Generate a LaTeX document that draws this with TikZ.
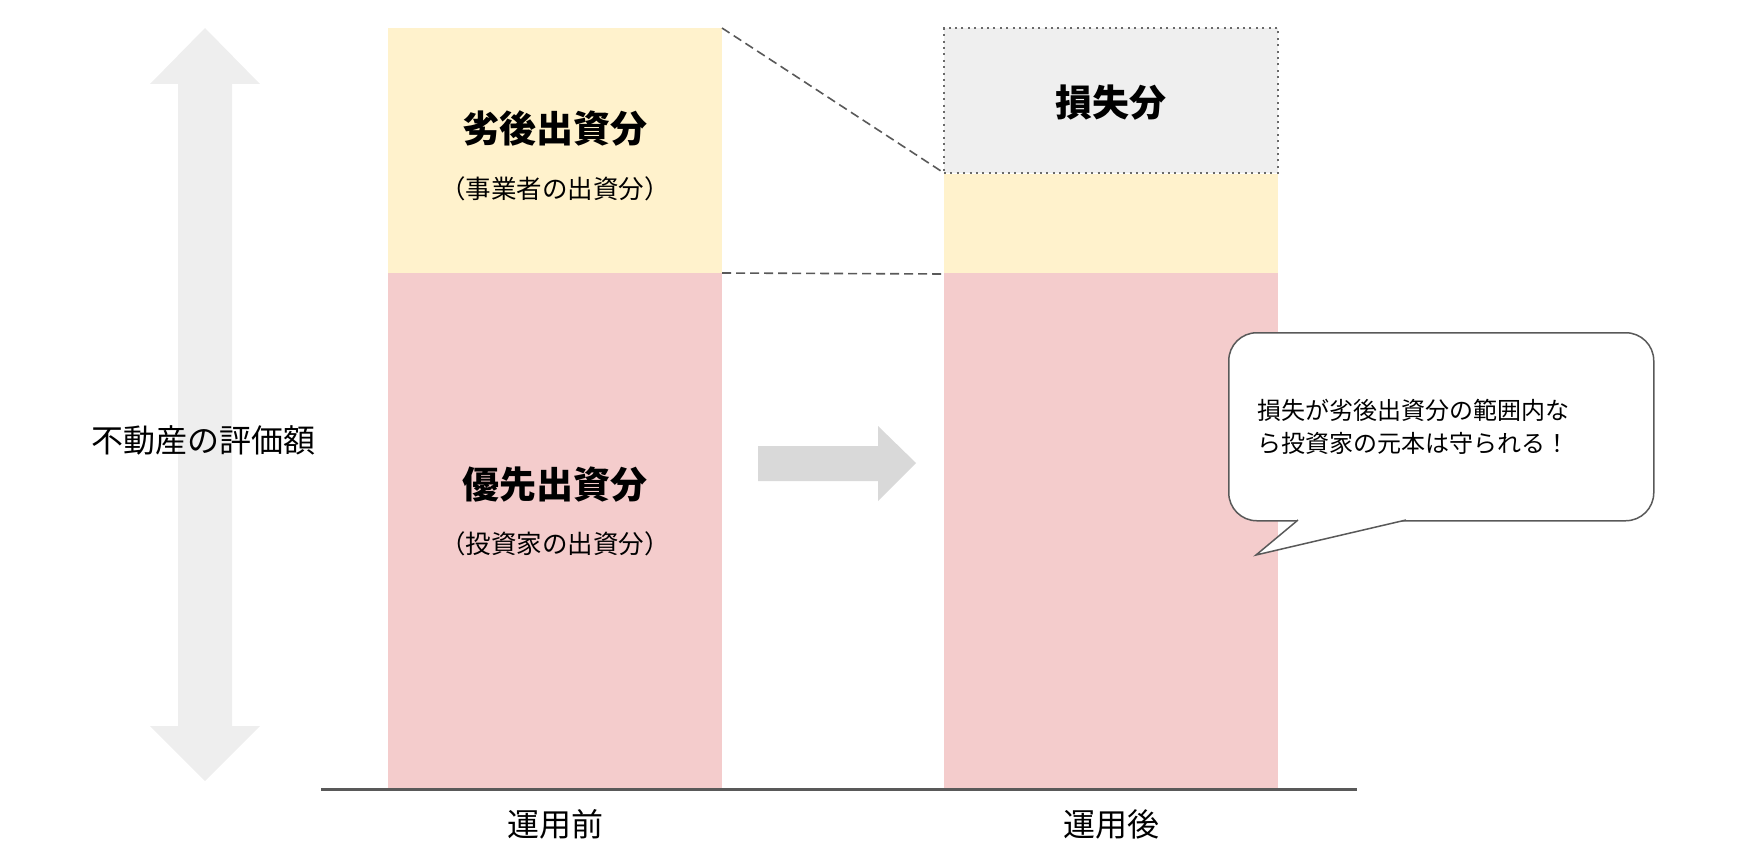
\documentclass[tikz,border=0pt]{standalone}
\usepackage{fontspec}
\setmainfont{Noto Sans CJK JP}
\usetikzlibrary{positioning}
\definecolor{juniorfill}{HTML}{FFF2CC}
\definecolor{seniorfill}{HTML}{F4CCCC}
\definecolor{lossfill}{HTML}{EFEFEF}
\definecolor{valuegray}{HTML}{EEEEEE}
\definecolor{movegray}{HTML}{D9D9D9}
\definecolor{linegray}{HTML}{595959}
\newcommand{\titlesize}{\fontsize{37}{44}\selectfont}
\newcommand{\subsize}{\fontsize{25.5}{30}\selectfont}
\newcommand{\labelsize}{\fontsize{32}{38}\selectfont}
\newcommand{\notesize}{\fontsize{24}{33}\selectfont}

\begin{document}
\begin{tikzpicture}[x=1pt,y=-1pt]
\useasboundingbox (0,0) rectangle (1747,856);
\tikzstyle{bar}=[rectangle,
                 inner sep=0pt,
                 outer sep=0pt,
                 minimum width=334pt,
                 anchor=north west
                 ]
\tikzstyle{guide}=[linegray, line width=1.6pt, dash pattern=on 9pt off 5pt]
% value arrow
\fill[valuegray] (205,28) -- (260,84) -- (232,84) -- (232,726) -- (260,726) -- (205,781)
  -- (150,726) -- (178,726) -- (178,84) -- (150,84) -- cycle;
\node[font=\labelsize] (value) at (203,440) {不動産の評価額};
% before
\node[bar, fill=juniorfill, minimum height=245pt] (junior) at (388,28) {};
\node[bar, fill=seniorfill, minimum height=516pt] (senior) at (388,273) {};
\node[font=\titlesize\bfseries] (juniortitle) at (555,128) {劣後出資分};
\node[font=\subsize] (juniorsub) at (555,189) {（事業者の出資分）};
\node[font=\titlesize\bfseries] (seniortitle) at (555,485) {優先出資分};
\node[font=\subsize] (seniorsub) at (555,544) {（投資家の出資分）};
% after
\node[bar, fill=lossfill, minimum height=145pt, draw=linegray!90, line width=2.2pt,
      dash pattern=on 2pt off 4.4pt] (loss) at (944,28) {};
\node[bar, fill=juniorfill, minimum height=100pt] (juniorafter) at (944,174) {};
\node[bar, fill=seniorfill, minimum height=516pt] (seniorafter) at (944,273) {};
\node[font=\titlesize\bfseries] (losstitle) at (1111,103) {損失分};
% guides
\draw[guide] (junior.north east) -- (loss.south west);
\draw[guide] (junior.south east) -- (juniorafter.south west);
% move arrow
\fill[movegray] (758,446) -- (878,446) -- (878,426) -- (916,463) -- (878,501) -- (878,481)
  -- (758,481) -- cycle;
% axis
\draw[linegray, line width=3pt] (321,789) -- (1357,789);
\node[font=\labelsize] (before) at (555,824) {運用前};
\node[font=\labelsize] (after) at (1111,824) {運用後};
% callout
\node[draw=linegray, line width=1.5pt, fill=white, rounded corners=28pt,
      anchor=north west, text width=367pt, inner xsep=29pt, inner ysep=0pt,
      minimum height=188pt, align=left, font=\notesize] (bubble) at (1228,332)
      {損失が劣後出資分の範囲内な\\ら投資家の元本は守られる！};
\coordinate (pointa) at (1298,520);
\coordinate (pointb) at (1406,520);
\coordinate (pointtip) at (1256,555);
\fill[white] (1298,517) -- (pointa) -- (pointtip) -- (pointb) -- (1406,517) -- cycle;
\draw[linegray, line width=1.5pt, line join=miter] (pointa) -- (pointtip) -- (pointb);
\end{tikzpicture}
\end{document}
